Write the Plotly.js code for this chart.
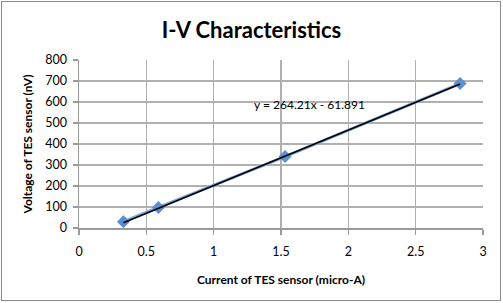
<!DOCTYPE html>
<html>
<head>
<meta charset="utf-8">
<script src="https://cdn.plot.ly/plotly-3.0.1.min.js"></script>
<style>
  html, body { margin: 0; padding: 0; background: #fff; }
  #chart { position: absolute; left: 0; top: 0; width: 503px; height: 303px; }
  #frame { position: absolute; left: 1px; top: 1px; width: 500px; height: 300px; box-sizing: border-box; border: 1px solid #8c8c8c; pointer-events: none; }
</style>
</head>
<body>
<div id="chart"></div>
<div id="frame"></div>
<script>
// Data
const currentMicroA = [0.33, 0.59, 1.53, 2.83];
const voltageNV = [30, 98, 340, 688];
const trendSlope = 264.21;
const trendIntercept = -61.891;
const trendLabel = "y = 264.21x - 61.891";
const xTicks = [0, 0.5, 1, 1.5, 2, 2.5, 3];
const xTickText = ["0", "0.5", "1", "1.5", "2", "2.5", "3"];
const yTicks = [0, 100, 200, 300, 400, 500, 600, 700, 800];
const yTickText = ["0", "100", "200", "300", "400", "500", "600", "700", "800"];

const xMin = Math.min(...currentMicroA), xMax = Math.max(...currentMicroA);
const trendX = [xMin, xMax];
const trendY = trendX.map(x => trendSlope * x + trendIntercept);

const FONT = "Lato, 'Open Sans', sans-serif";

const traces = [
  {
    x: currentMicroA, y: voltageNV, type: 'scatter', mode: 'lines+markers',
    line: { color: '#7ea6d8', width: 3 },
    marker: { symbol: 'diamond', size: 10, color: '#5b8fcf', line: { width: 0 } },
    hoverinfo: 'skip'
  },
  {
    x: trendX, y: trendY, type: 'scatter', mode: 'lines',
    line: { color: '#000000', width: 1.6 },
    hoverinfo: 'skip'
  }
];

const layout = {
  width: 503, height: 303,
  margin: { l: 79, r: 20, t: 60, b: 75 },
  paper_bgcolor: '#ffffff', plot_bgcolor: '#ffffff',
  showlegend: false,
  font: { family: FONT, size: 12, color: '#000' },
  title: { text: '<b>I-V Characteristics</b>', font: { family: FONT, size: 22, color: '#000' }, x: 0.5, xanchor: 'center', y: 0.9, yanchor: 'middle' },
  xaxis: {
    range: [0, 3], tickvals: xTicks, ticktext: xTickText,
    showgrid: true, gridcolor: '#b0b0b0', gridwidth: 1.5,
    showline: true, linecolor: '#9a9a9a', linewidth: 1.5,
    ticks: 'outside', ticklen: 5, tickcolor: '#9a9a9a', tickwidth: 1.5,
    tickfont: { family: FONT, size: 12.5, color: '#000' },
    ticklabelstandoff: 6,
    zeroline: false, mirror: false,
    title: { text: '<b>Current of TES sensor (micro-A)</b>', font: { family: FONT, size: 12, color: '#000' }, standoff: 18 }
  },
  yaxis: {
    range: [0, 800], tickvals: yTicks, ticktext: yTickText,
    showgrid: true, gridcolor: '#b0b0b0', gridwidth: 1.5,
    showline: true, linecolor: '#9a9a9a', linewidth: 1.5,
    ticks: 'outside', ticklen: 5, tickcolor: '#9a9a9a', tickwidth: 1.5,
    tickfont: { family: FONT, size: 12.5, color: '#000' },
    ticklabelstandoff: 3,
    zeroline: false,
    title: { text: '<b>Voltage of TES sensor (nV)</b>', font: { family: FONT, size: 12, color: '#000' }, standoff: 10 }
  },
  annotations: [
    { x: 1.71, y: 588, xref: 'x', yref: 'y', text: trendLabel, showarrow: false,
      font: { family: FONT, size: 12, color: '#000' }, xanchor: 'center', yanchor: 'middle' }
  ]
};

Plotly.newPlot('chart', traces, layout, { displayModeBar: false, staticPlot: true });
</script>
</body>
</html>
